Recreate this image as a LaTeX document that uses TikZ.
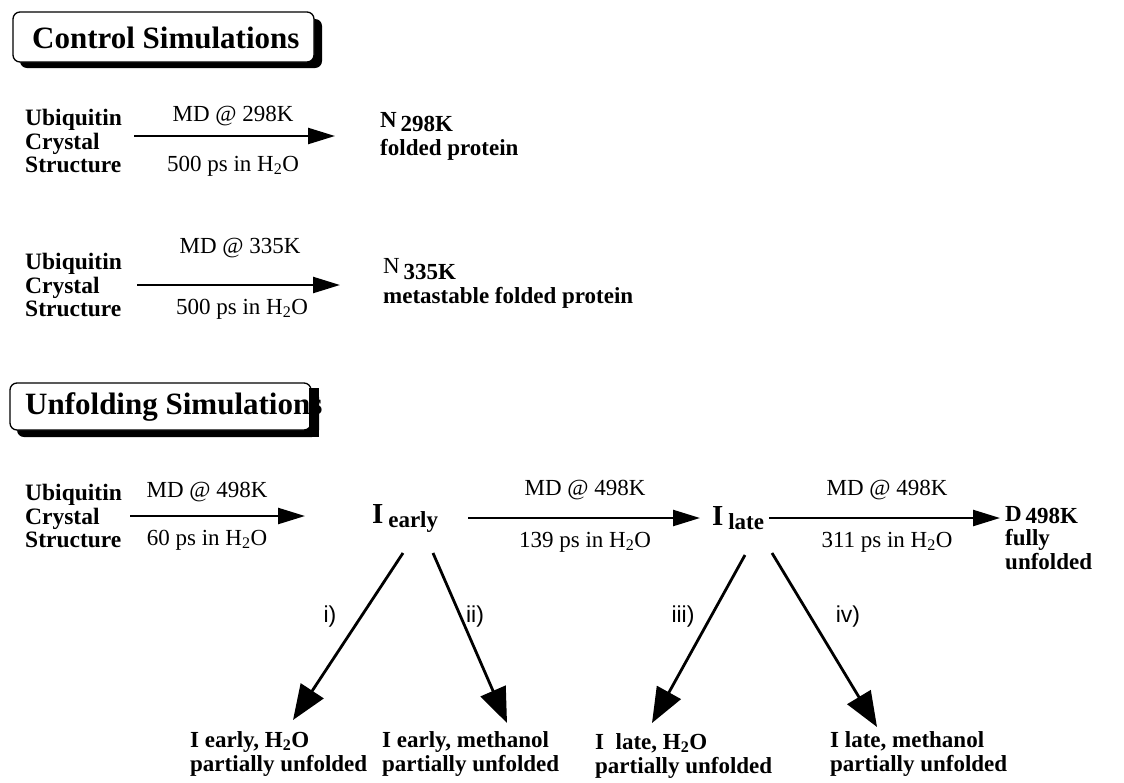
\documentclass[tikz,border=0pt]{standalone}
\usepackage{fontspec}
\setmainfont{Liberation Serif}
\setsansfont{Liberation Sans}
\usetikzlibrary{arrows.meta}

\tikzset{
  src/.style={font=\fontsize{23.5}{23.5}\selectfont\bfseries, align=left, anchor=west, inner sep=0pt},
  cond/.style={font=\fontsize{23}{24}\selectfont, inner sep=0pt},
  state/.style={font=\fontsize{23}{24}\selectfont\bfseries, align=left, inner sep=0pt},
  tag/.style={font=\sffamily\fontsize{23}{24}\selectfont, inner sep=0pt},
  flow/.style={line width=2.4pt, -{Triangle[length=27pt,width=16pt]}},
  branch/.style={line width=2.8pt, -{Triangle[length=35pt,width=27pt]}},
  title/.style={font=\fontsize{31}{32}\selectfont\bfseries, anchor=west, inner sep=0pt}
}
\newcommand{\water}{H\textsubscript{2}O}

\begin{document}
\begin{tikzpicture}[x=1pt,y=-1pt]
	\useasboundingbox (0,0) rectangle (1124,782);
	% control runs
	\fill[rounded corners=7pt] (20,19) rectangle (322,68);
	\filldraw[fill=white, line width=1.3pt, rounded corners=7pt] (13,12) rectangle (314,62);
	\node[title] (ctrl) at (32,38) {Control Simulations};
	\node[src] (src1) at (25,141) {Ubiquitin\\Crystal\\Structure};
	\node[state, anchor=west] (n298) at (380,136) {N\,\raisebox{-4pt}{298K}\\[4pt]folded protein};
	\draw[flow, shorten <=12pt, shorten >=45pt] (src1.east |- n298.west) -- (n298.west);
	\node[cond] (md1) at (233,116) {MD @ 298K};
	\node[cond] (ps1) at (233,166) {500 ps in \water};
	\node[src] (src2) at (25,285) {Ubiquitin\\Crystal\\Structure};
	\node[state, anchor=west] (n335) at (383,283) {\raisebox{6pt}{\mdseries N}\,335K\\metastable folded protein};
	\draw[flow, shorten <=15pt, shorten >=43pt] (src2.east) -- (n335.west |- src2.east);
	\node[cond] (md2) at (240,248) {MD @ 335K};
	\node[cond] (ps2) at (242,309) {500 ps in \water};
	% unfolding runs
	\fill[rounded corners=7pt] (17,390) rectangle (319,437);
	\filldraw[fill=white, line width=1.3pt, rounded corners=7pt] (10,383) rectangle (311,430);
	\node[title] (unf) at (25,407) {Unfolding Simulations};
	\fill (309,388) rectangle (319,437);
	\node[src] (src3) at (25,516) {Ubiquitin\\Crystal\\Structure};
	\node[state, anchor=west] (iearly) at (372,518) {\fontsize{29}{29}\selectfont I\,\raisebox{-4pt}{\fontsize{23}{23}\selectfont early}};
	\node[state, anchor=west] (ilate) at (712,518) {\fontsize{29}{29}\selectfont I\,\raisebox{-4pt}{\fontsize{23}{23}\selectfont late}};
	\node[state, anchor=north west] (d498) at (1005,506) {D\,\raisebox{-2pt}{498K}\\fully\\unfolded};
	\draw[flow, shorten <=8pt, shorten >=67pt] (src3.east) -- (iearly.west |- src3.east);
	\draw[flow, shorten <=30pt, shorten >=12pt] (iearly.east |- ilate.west) -- (ilate.west);
	\draw[flow, shorten <=5pt, shorten >=5pt] (ilate.east) -- (ilate.east -| d498.west);
	\node[cond] (md3) at (207,492) {MD @ 498K};
	\node[cond] (ps3) at (207,540) {60 ps in \water};
	\node[cond] (md4) at (585,490) {MD @ 498K};
	\node[cond] (ps4) at (585,542) {139 ps in \water};
	\node[cond] (md5) at (887,490) {MD @ 498K};
	\node[cond] (ps5) at (887,542) {311 ps in \water};
	% quench branches
	\node[state, anchor=north west] (ew) at (190,731) {I early, \water\\partially unfolded};
	\node[state, anchor=north west] (em) at (382,731) {I early, methanol\\partially unfolded};
	\node[state, anchor=north west] (lw) at (595,733) {I\ \ late, \water\\partially unfolded};
	\node[state, anchor=north west] (lm) at (830,731) {I late, methanol\\partially unfolded};
	\coordinate (e1) at (403,553);
	\coordinate (e2) at (433,553);
	\coordinate (l1) at (745,555);
	\coordinate (l2) at (772,553);
	\coordinate (ew0) at (293,720);
	\coordinate (em0) at (507,723);
	\coordinate (lw0) at (652,723);
	\coordinate (lm0) at (877,727);
	\draw[branch] (e1) -- (ew0);
	\draw[branch] (e2) -- (em0);
	\draw[branch] (l1) -- (lw0);
	\draw[branch] (l2) -- (lm0);
	\node[tag] (t1) at (330,617) {i)};
	\node[tag] (t2) at (475,617) {ii)};
	\node[tag] (t3) at (683,617) {iii)};
	\node[tag] (t4) at (848,617) {iv)};
\end{tikzpicture}
\end{document}
